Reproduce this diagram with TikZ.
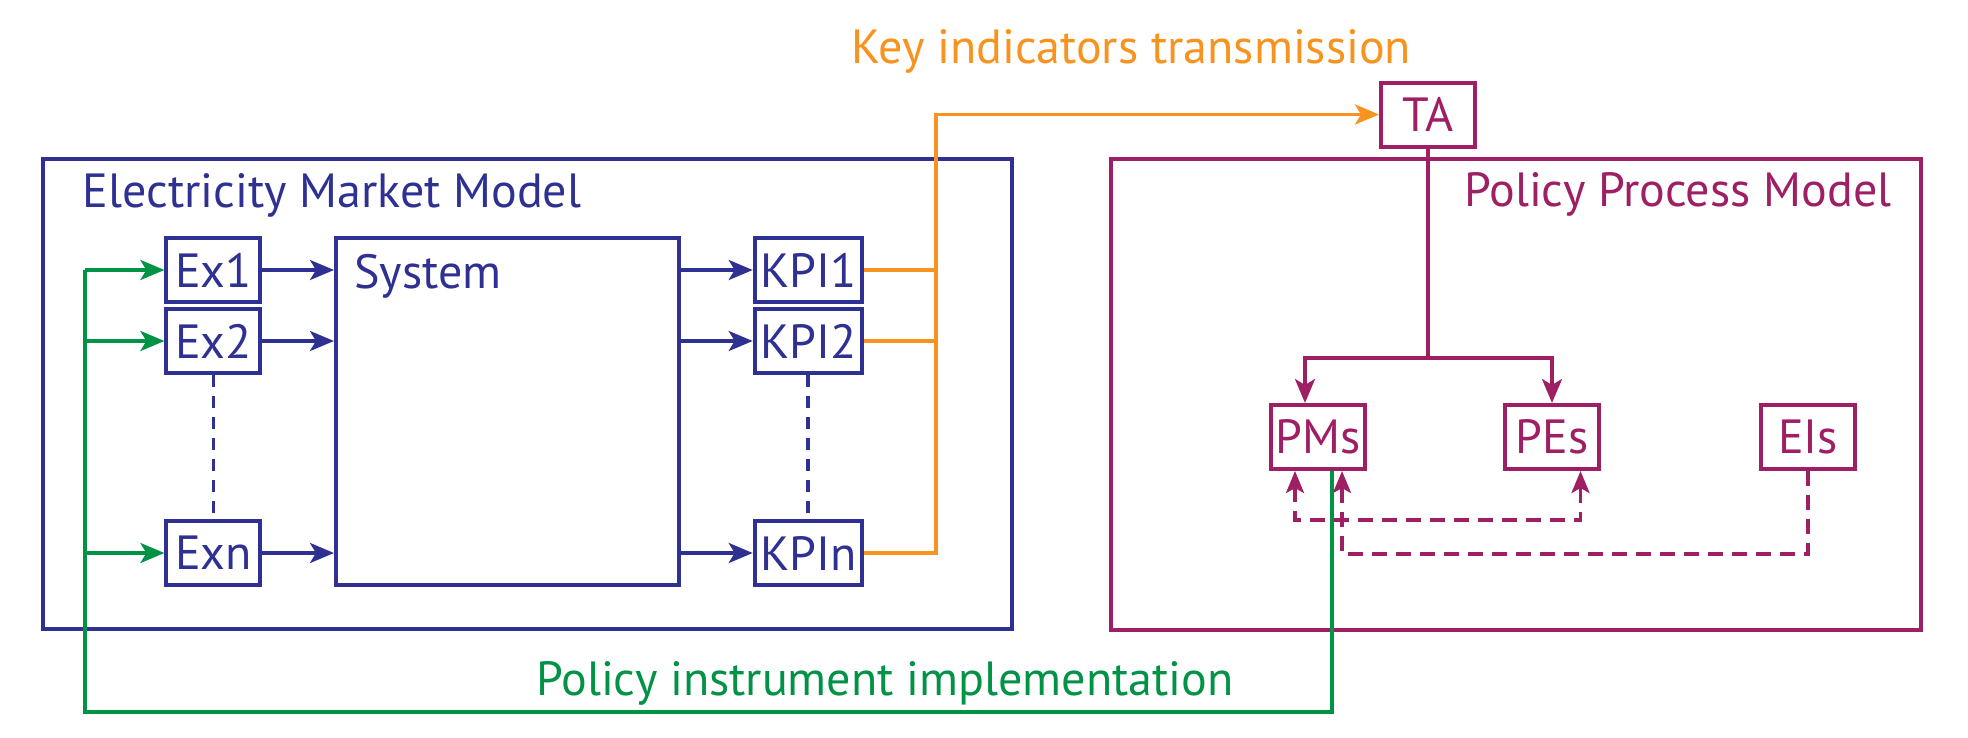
\documentclass[tikz,border=0pt]{standalone}
\usepackage{fontspec}
\setmainfont{PT Sans}
\usetikzlibrary{arrows.meta}
\definecolor{cblue}{HTML}{2E3192}
\definecolor{cmag}{HTML}{9E1F63}
\definecolor{corange}{HTML}{F7931E}
\definecolor{cgreen}{HTML}{009245}
\begin{document}
\begin{tikzpicture}[x=1pt,y=-1pt,
  lbl/.style={font=\fontsize{48}{50}\selectfont, inner sep=0},
  bx/.style={draw, line width=4pt, inner sep=0, minimum width=94pt, minimum height=64pt, font=\fontsize{48}{50}\selectfont},
  outer/.style={draw, line width=4pt, inner sep=0},
  ln/.style={line width=3.5pt},
  arr/.style={ln, -{Stealth[length=24pt,width=20pt,inset=6pt]}},
  darr/.style={ln, dash pattern=on 15pt off 9pt},
  dtip/.tip={Stealth[length=22pt,width=18pt,inset=5pt]},
]
\useasboundingbox (0,0) rectangle (1968,737);
% outer boxes
\node[outer, cblue, minimum width=969pt, minimum height=470pt] (emm) at (527.5,394) {};
\node[outer, cmag, minimum width=810pt, minimum height=471pt] (ppm) at (1516,394.5) {};
\node[lbl, cblue, anchor=base west] (emmt) at (82.6,207.7) {Electricity Market Model};
\node[lbl, cmag, anchor=base east] (ppmt) at (1891.6,206.7) {Policy Process Model};
\node[lbl, corange, anchor=base west] (kit) at (851.5,63.3) {Key indicators transmission};
\node[lbl, cgreen, anchor=base west] (pit) at (536,695) {Policy instrument implementation};
% left model
\node[bx, cblue] (ex1) at (213.4,270) {Ex1};
\node[bx, cblue] (ex2) at (213.4,341) {Ex2};
\node[bx, cblue] (exn) at (213.4,553) {Exn};
\node[outer, cblue, minimum width=343pt, minimum height=347pt] (sys) at (507.5,411.5) {};
\node[lbl, cblue, anchor=base west] (syst) at (354,288) {System};
\node[bx, cblue, minimum width=107pt] (kpi1) at (808.2,270) {KPI1};
\node[bx, cblue, minimum width=107pt] (kpi2) at (808.2,341) {KPI2};
\node[bx, cblue, minimum width=107pt] (kpin) at (808.2,553) {KPIn};
\foreach \r in {ex1,ex2,exn}{\draw[arr, cblue] (\r.east) -- (\r.east -| sys.west);}
\foreach \r in {kpi1,kpi2,kpin}{\draw[arr, cblue] (\r.west -| sys.east) -- (\r.west);}
\draw[ln, cblue, dash pattern=on 12pt off 9pt] (ex2.south) -- (exn.north);
\draw[ln, cblue, dash pattern=on 12pt off 9pt] (kpi2.south) -- (kpin.north);
% right model
\node[bx, cmag] (ta) at (1428,114.5) {TA};
\node[bx, cmag] (pms) at (1318,437) {PMs};
\node[bx, cmag] (pes) at (1552,437) {PEs};
\node[bx, cmag] (eis) at (1808,437) {EIs};
\coordinate (tj) at (1428,358);
\draw[ln, cmag] (ta.south) -- (tj);
\draw[arr, cmag] (tj) -| ([xshift=-13pt]pms.north);
\draw[arr, cmag] (tj) -| (pes.north);
\draw[darr, cmag, dtip-dtip] ([xshift=-23pt]pms.south) -- ++(0,49) -| ([xshift=28.5pt]pes.south);
\draw[darr, cmag, -dtip] (eis.south) -- ++(0,83) -| ([xshift=24pt]pms.south);
% orange
\coordinate (oc) at (936,0);
\draw[ln, corange] (kpi1.east) -- (kpi1.east -| oc);
\draw[ln, corange] (kpi2.east) -- (kpi2.east -| oc);
\draw[arr, corange] (kpin.east) -| (oc |- ta.west) -- (ta.west);
% green
\coordinate (gb) at (85,712);
\draw[ln, cgreen] ([xshift=14pt]pms.south) |- (gb) -- (gb |- ex1);
\foreach \r in {ex1,ex2,exn}{\draw[arr, cgreen] (gb |- \r) -- (\r.west);}
\end{tikzpicture}
\end{document}
